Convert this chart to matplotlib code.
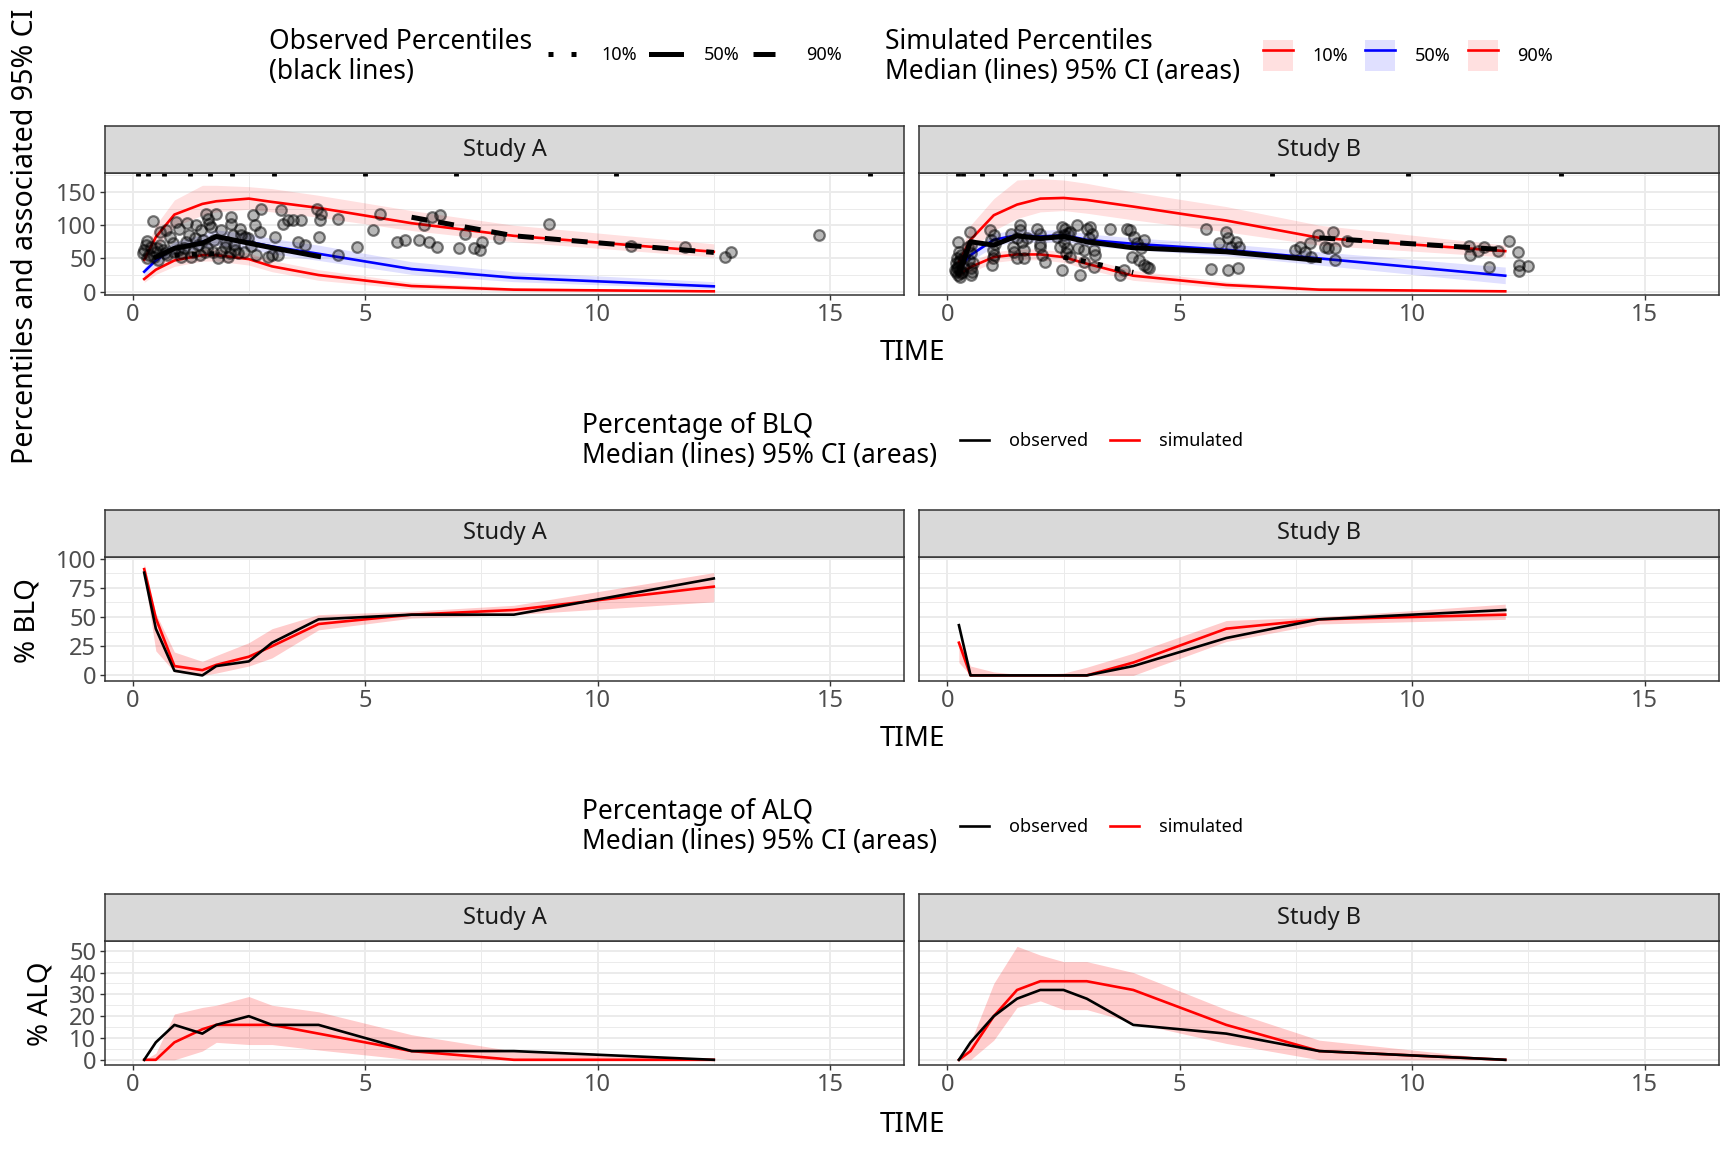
import numpy as np
import matplotlib
matplotlib.use("Agg")
import matplotlib.pyplot as plt
from matplotlib.lines import Line2D
from matplotlib.patches import Patch
from matplotlib.legend_handler import HandlerTuple

plt.rcParams['font.family'] = ['Noto Sans', 'DejaVu Sans']

# ---- bins (time) ----
a_time = [0.25, 0.5, 0.9, 1.5, 1.8, 2.5, 3.0, 4.0, 6.0, 8.2, 12.5]
b_time = [0.25, 0.5, 1.0, 1.5, 2.0, 2.5, 3.0, 4.0, 6.0, 8.0, 12.0]

# ---- simulated percentiles: median, lower, upper of 95% CI ----
a_p10 = [19, 33, 47, 55, 55, 49, 38, 25, 8.5, 3, 0.5]
a_p10_lo = [14, 26, 38, 46, 46, 40, 30, 17, 4, 1, 0]
a_p10_hi = [25, 40, 56, 64, 64, 58, 47, 33, 14, 6, 2]
a_p50 = [30, 47, 66, 75, 82, 75, 68, 57, 34, 21, 8]
a_p50_lo = [24, 40, 57, 65, 70, 64, 57, 47, 26, 15, 4]
a_p50_hi = [36, 55, 75, 86, 93, 87, 80, 70, 45, 30, 15]
a_p90 = [48, 82, 116, 132, 136, 140, 135, 126, 103, 84, 60]
a_p90_lo = [40, 65, 98, 115, 120, 124, 120, 112, 92, 75, 52]
a_p90_hi = [58, 100, 138, 160, 160, 158, 155, 145, 122, 100, 72]

b_p10 = [25, 37, 52, 56, 56, 52, 42, 24, 10, 3, 0.5]
b_p10_lo = [18, 29, 44, 48, 48, 44, 34, 17, 5, 1, 0]
b_p10_hi = [32, 45, 60, 64, 64, 60, 50, 32, 15, 6, 2]
b_p50 = [35, 55, 78, 85, 83, 85, 78, 72, 63, 50, 24]
b_p50_lo = [28, 46, 68, 76, 74, 76, 69, 63, 54, 40, 12]
b_p50_hi = [42, 64, 87, 94, 92, 94, 87, 81, 72, 60, 37]
b_p90 = [45, 78, 115, 131, 140, 141, 138, 128, 107, 81, 61]
b_p90_lo = [36, 62, 92, 110, 120, 122, 118, 108, 90, 70, 52]
b_p90_hi = [55, 100, 140, 168, 170, 168, 163, 150, 128, 100, 70]

# ---- observed percentiles ----
a_obs10_t = [0.9, 1.5, 1.8]
a_obs10 = [55, 57, 57]
a_obs50_t = [0.5, 0.9, 1.5, 1.8, 2.5, 3.0, 4.0]
a_obs50 = [52, 65, 73, 83, 73, 66, 53]
a_obs90_t = [6.0, 8.2, 12.5]
a_obs90 = [112, 84, 59]

b_obs10_t = [2.5, 3.0, 4.0]
b_obs10 = [52, 45, 29]
b_obs50_t = [0.25, 0.5, 1.0, 1.5, 2.0, 2.5, 3.0, 4.0, 6.0, 8.0]
b_obs50 = [28, 75, 70, 84, 80, 83, 75, 66, 60, 47]
b_obs90_t = [8.0, 12.0]
b_obs90 = [81, 63]

# ---- bin separators (rug) ----
a_rug = [0.11, 0.33, 0.67, 1.24, 1.66, 2.14, 3.05, 5.0, 6.95, 10.4, 15.85]
b_rug = [0.22, 0.33, 0.74, 1.24, 1.79, 2.23, 2.73, 3.39, 4.96, 6.98, 9.9, 13.19]

# ---- observed concentrations ----
a_pt_time = [0.45, 0.31, 0.25, 0.22, 0.4, 0.47, 0.54, 0.65, 0.72, 0.8, 0.86, 0.94, 0.97,
             1.04, 1.17, 1.22, 1.26, 1.37, 1.4, 1.47, 1.51, 1.58, 1.62, 1.65, 1.69, 1.73,
             1.76, 1.8, 1.83, 1.91, 1.98, 2.05, 2.12, 2.12, 2.16, 2.19, 2.27, 2.34, 2.41,
             2.48, 2.59, 2.63, 2.66, 2.73, 2.77, 2.91, 2.99, 3.06, 3.13, 3.2, 3.24, 3.35,
             3.45, 3.56, 3.63, 3.71, 3.96, 4.0, 4.03, 4.06, 4.42, 4.42, 4.82, 5.18, 5.32,
             5.68, 5.86, 6.15, 6.26, 6.37, 6.44, 6.55, 6.62, 7.01, 7.16, 7.34, 7.48, 7.52,
             7.88, 8.96, 10.71, 11.88, 12.74, 12.86, 14.76,
             0.35, 0.5, 0.6, 0.75, 0.9, 1.1, 1.3, 1.45, 1.6, 1.9, 2.0, 2.2, 2.4, 2.55,
             0.28, 1.15, 1.35, 0.6, 1.0, 2.3, 0.3, 0.52, 0.7, 1.05, 1.55, 2.1]
a_pt_conc = [106.5, 76.5, 62.5, 57.5, 66.5, 52.5, 47.5, 62.5, 92.5, 82.5, 72.5, 105, 62.5,
             52.5, 103.5, 85, 52.5, 100, 70, 92.5, 77.5, 117.5, 110, 102.5, 97.5, 60,
             77.5, 117.5, 50, 92.5, 67.5, 52.5, 112.5, 102.5, 85, 70, 57.5, 85, 82.5,
             80, 115, 100, 55, 90, 125, 52.5, 55, 82.5, 55, 122.5, 102.5, 107.5,
             107.5, 75, 107.5, 70, 125, 82.5, 107.5, 117.5, 110, 55, 67.5, 92.5, 117.5,
             75, 77.5, 77.5, 100, 75, 112.5, 67.5, 115, 65, 87.5, 65, 62.5, 75,
             80, 102.5, 68.5, 66.5, 52.5, 60, 84.5,
             55, 60, 70, 55, 60, 65, 60, 55, 65, 60, 75, 62, 60, 68,
             70, 75, 80, 90, 95, 95, 50, 65, 58, 58, 60, 58]

b_pt_time = [0.23, 0.27, 0.23, 0.19, 0.23, 0.3, 0.34, 0.37, 0.45, 0.48, 0.52, 0.52, 0.55,
             0.92, 0.95, 0.99, 0.99, 0.97, 1.38, 1.42, 1.44, 1.49, 1.56, 1.56, 1.6, 1.64,
             1.64, 1.71, 1.92, 1.99, 1.99, 2.03, 2.1, 2.36, 2.43, 2.46, 2.5, 2.54, 2.57,
             2.46, 2.64, 2.64, 2.79, 2.82, 2.86, 2.93, 3.0, 3.08, 3.11, 3.15, 3.18, 2.93,
             3.15, 3.51, 3.87, 3.94, 3.98, 4.01, 4.09, 4.16, 4.12, 4.23, 4.23, 4.3, 4.34,
             3.72, 3.8, 5.56, 5.67, 5.85, 5.99, 6.03, 6.03, 6.1, 6.21, 6.25, 6.28, 7.47,
             7.58, 7.69, 7.8, 7.83, 7.98, 8.12, 8.19, 8.3, 8.34, 8.34, 8.59,
             11.23, 11.25, 11.42, 11.54, 11.66, 11.84, 12.08, 12.28, 12.29, 12.3, 12.48,
             0.16, 0.27, 0.19, 0.3, 0.5, 1.0, 1.5, 2.0, 2.5, 3.05,
             0.2, 0.25, 0.28, 0.32, 0.21, 0.26, 0.5, 0.53, 0.47, 1.0, 1.02, 2.55, 2.6]
b_pt_conc = [75, 47.5, 37.5, 30, 25, 27.5, 37.5, 52.5, 67.5, 90, 57.5, 25, 42.5,
             92.5, 77.5, 62.5, 50, 40, 87.5, 67.5, 60, 50, 100, 92.5, 75, 62.5,
             50, 80, 95, 87.5, 67.5, 55, 45, 82.5, 67.5, 97.5, 75, 95, 65,
             32.5, 90, 52.5, 100, 65, 25, 62.5, 95, 97.5, 87.5, 62.5, 55, 45,
             37.5, 95, 95, 92.5, 52.5, 82.5, 72.5, 65, 47.5, 77.5, 40, 37.5, 35,
             25, 32.5, 95, 33.5, 72.5, 90, 80, 32.5, 67.5, 75, 35, 67.5, 62.5,
             67.5, 60, 72.5, 52.5, 85, 67.5, 65, 90, 65, 47.5, 76,
             68.5, 55, 61, 67.5, 36.5, 61, 76, 60, 40, 31.5, 38.5,
             32.5, 32.5, 42.5, 55, 70, 85, 80, 72, 85, 80,
             35, 45, 22, 30, 50, 60, 35, 30, 48, 55, 72, 58, 88]

# ---- BLQ (%) ----
a_blq_obs = [88, 40, 4, 0, 8, 12, 28, 48, 52, 52, 83]
a_blq_sim = [91, 49, 8, 4.5, 9, 16, 25, 44, 52, 56, 76]
a_blq_lo = [85, 21, 3, 0, 2, 8, 15, 39, 49, 52, 63]
a_blq_hi = [96, 53, 20, 12, 17, 28, 40, 52, 55, 60, 88]
b_blq_obs = [43, 0, 0, 0, 0, 0, 0, 8, 32, 48, 56]
b_blq_sim = [28, 0, 0, 0, 0, 0, 0, 11, 40, 48, 52]
b_blq_lo = [11, 0, 0, 0, 0, 0, 0, 0, 29, 44, 48]
b_blq_hi = [30, 8, 3, 1, 1, 2, 7, 19, 47, 50, 61]

# ---- ALQ (%) ----
a_alq_obs = [0, 8, 16, 12, 16, 20, 16, 16, 4, 4, 0]
a_alq_sim = [0, 0, 8, 14, 16, 16, 16, 12, 4, 0, 0]
a_alq_lo = [0, 0, 0, 4, 8, 7, 7, 4.5, 0, 0, 0]
a_alq_hi = [0, 3, 21, 24, 25, 29, 25, 22, 11.5, 4, 0]
b_alq_obs = [0, 8, 20, 28, 32, 32, 28, 16, 12, 4, 0]
b_alq_sim = [0, 4, 20, 32, 36, 36, 36, 32, 16, 4, 0]
b_alq_lo = [0, 0, 9, 24, 27, 23, 23, 17, 7.5, 0, 0]
b_alq_hi = [0, 8, 35, 52, 48, 45, 45, 40, 23, 9, 0]

W, H = 1560.0, 1040.0
fig = plt.figure(figsize=(17.28, 11.52), dpi=100)

GRID = '#EBEBEB'
DARK = '#333333'


def panel(left, top, bottom, ylim, yticks, yminor, label, show_y):
    ax = fig.add_axes([left / W, 1 - bottom / H, 722 / W, (bottom - top) / H])
    ax.set_xlim(-0.6, 16.6)
    ax.set_ylim(*ylim)
    ax.set_xticks([0, 5, 10, 15])
    ax.set_xticks([2.5, 7.5, 12.5], minor=True)
    ax.set_yticks(yticks)
    ax.set_yticks(yminor, minor=True)
    ax.grid(which='major', color=GRID, lw=1.4)
    ax.grid(which='minor', color=GRID, lw=0.7)
    ax.set_axisbelow(True)
    ax.tick_params(which='major', length=3.5, width=1.0, color=DARK,
                   labelsize=17, labelcolor='#4D4D4D', pad=2.5)
    ax.tick_params(which='minor', length=0)
    if not show_y:
        ax.tick_params(axis='y', labelleft=False, length=0)
    for s in ax.spines.values():
        s.set_color(DARK)
        s.set_linewidth(1.1)
    sax = fig.add_axes([left / W, 1 - top / H, 722 / W, 41.8 / H])
    sax.set_facecolor('#D9D9D9')
    sax.set_xticks([])
    sax.set_yticks([])
    for s in sax.spines.values():
        s.set_color(DARK)
        s.set_linewidth(1.1)
    sax.text(0.5, 0.5, label, ha='center', va='center', fontsize=17,
             color='#1A1A1A', transform=sax.transAxes)
    return ax


# ---------- percentile panels ----------
studies = [
    (94.5, 'Study A', a_time, [(a_p10, a_p10_lo, a_p10_hi, 'red'),
                              (a_p50, a_p50_lo, a_p50_hi, 'blue'),
                              (a_p90, a_p90_lo, a_p90_hi, 'red')],
     a_pt_time, a_pt_conc,
     [(a_obs10_t, a_obs10, (1, 2.5)), (a_obs50_t, a_obs50, None), (a_obs90_t, a_obs90, (3.2, 2.2))],
     a_rug, True),
    (830, 'Study B', b_time, [(b_p10, b_p10_lo, b_p10_hi, 'red'),
                             (b_p50, b_p50_lo, b_p50_hi, 'blue'),
                             (b_p90, b_p90_lo, b_p90_hi, 'red')],
     b_pt_time, b_pt_conc,
     [(b_obs10_t, b_obs10, (1, 2.5)), (b_obs50_t, b_obs50, None), (b_obs90_t, b_obs90, (3.2, 2.2))],
     b_rug, False),
]

for left, name, t, sims, pt_t, pt_c, obs, rug, show_y in studies:
    ax = panel(left, 155.9, 266.3, (-5, 179), [0, 50, 100, 150], [25, 75, 125, 175], name, show_y)
    for med, lo, hi, col in sims:
        ax.fill_between(t, lo, hi, color=col, alpha=0.12, lw=0)
    for med, lo, hi, col in sims:
        ax.plot(t, med, color=col, lw=1.9)
    ax.scatter(pt_t, pt_c, s=58, facecolors=(0, 0, 0, 0.28), edgecolors=(0, 0, 0, 0.5),
               linewidths=1.6, zorder=3)
    for ot, ov, dash in obs:
        if dash is None:
            ax.plot(ot, ov, color='black', lw=3.6, zorder=4)
        else:
            ax.plot(ot, ov, color='black', lw=3.6, dashes=dash, zorder=4)
    ax.vlines(rug, 0.975, 1.0, transform=ax.get_xaxis_transform(), color='black', lw=3.5, zorder=5)

# ---------- BLQ panels ----------
blq = [(94.5, 'Study A', a_time, a_blq_obs, a_blq_sim, a_blq_lo, a_blq_hi, True),
       (830, 'Study B', b_time, b_blq_obs, b_blq_sim, b_blq_lo, b_blq_hi, False)]
for left, name, t, o, s, lo, hi, show_y in blq:
    ax = panel(left, 502.5, 614.8, (-4.8, 101.7), [0, 25, 50, 75, 100],
               [12.5, 37.5, 62.5, 87.5], name, show_y)
    ax.fill_between(t, lo, hi, color='red', alpha=0.2, lw=0)
    ax.plot(t, s, color='red', lw=1.9)
    ax.plot(t, o, color='black', lw=1.9)

# ---------- ALQ panels ----------
alq = [(94.5, 'Study A', a_time, a_alq_obs, a_alq_sim, a_alq_lo, a_alq_hi, True),
       (830, 'Study B', b_time, b_alq_obs, b_alq_sim, b_alq_lo, b_alq_hi, False)]
for left, name, t, o, s, lo, hi, show_y in alq:
    ax = panel(left, 849.2, 961.5, (-2.4, 54.6), [0, 10, 20, 30, 40, 50],
               [5, 15, 25, 35, 45], name, show_y)
    ax.fill_between(t, lo, hi, color='red', alpha=0.2, lw=0)
    ax.plot(t, s, color='red', lw=1.9)
    ax.plot(t, o, color='black', lw=1.9)

# ---------- axis titles ----------
for yc in [319, 667, 1016]:
    fig.text(824 / W, 1 - yc / H, 'TIME', ha='center', va='center', fontsize=20)
fig.text(23 / W, 1 - 213 / H, 'Percentiles and associated 95% CI', rotation=90,
         ha='center', va='center', fontsize=20.6)
fig.text(24.4 / W, 1 - 560 / H, '% BLQ', rotation=90, ha='center', va='center', fontsize=20)
fig.text(37 / W, 1 - 906 / H, '% ALQ', rotation=90, ha='center', va='center', fontsize=20)

# ---------- legends ----------
fig.text(243 / W, 1 - 51.5 / H, 'Observed Percentiles\n(black lines)', ha='left', va='center',
         fontsize=19, linespacing=1.1)
obs_handles = [Line2D([], [], color='black', lw=3.6, dashes=(1, 3.6)),
               Line2D([], [], color='black', lw=3.6),
               Line2D([], [], color='black', lw=3.6, dashes=(4.4, 3))]
fig.legend(obs_handles, ['10%', '50%', '90%'], loc='center left',
           bbox_to_anchor=(495 / W, 1 - 50 / H), ncol=3, frameon=False, fontsize=13,
           handlelength=1.65, handletextpad=1.3, columnspacing=0.75,
           borderpad=0, borderaxespad=0)

fig.text(799 / W, 1 - 51.5 / H, 'Simulated Percentiles\nMedian (lines) 95% CI (areas)',
         ha='left', va='center', fontsize=19, linespacing=1.1)
sim_handles = [(Patch(color='red', alpha=0.12, lw=0), Line2D([], [], color='red', lw=1.9)),
               (Patch(color='blue', alpha=0.12, lw=0), Line2D([], [], color='blue', lw=1.9)),
               (Patch(color='red', alpha=0.12, lw=0), Line2D([], [], color='red', lw=1.9))]
fig.legend(sim_handles, ['10%', '50%', '90%'], loc='center left',
           bbox_to_anchor=(1140 / W, 1 - 50 / H), ncol=3, frameon=False, fontsize=13,
           handlelength=1.65, handleheight=2.3, handletextpad=1.1, columnspacing=0.95,
           borderpad=0, borderaxespad=0,
           handler_map={tuple: HandlerTuple(ndivide=1, pad=0)})

for yc, title in [(398.5, 'Percentage of BLQ\nMedian (lines) 95% CI (areas)'),
                  (747, 'Percentage of ALQ\nMedian (lines) 95% CI (areas)')]:
    fig.text(525 / W, 1 - yc / H, title, ha='left', va='center', fontsize=19, linespacing=1.1)
    hs = [Line2D([], [], color='black', lw=1.9), Line2D([], [], color='red', lw=1.9)]
    fig.legend(hs, ['observed', 'simulated'], loc='center left',
               bbox_to_anchor=(867 / W, 1 - yc / H), ncol=2, frameon=False, fontsize=13,
               handlelength=1.6, handletextpad=1.1, columnspacing=1.2,
               borderpad=0, borderaxespad=0)

fig.savefig('out.png', dpi=100)
